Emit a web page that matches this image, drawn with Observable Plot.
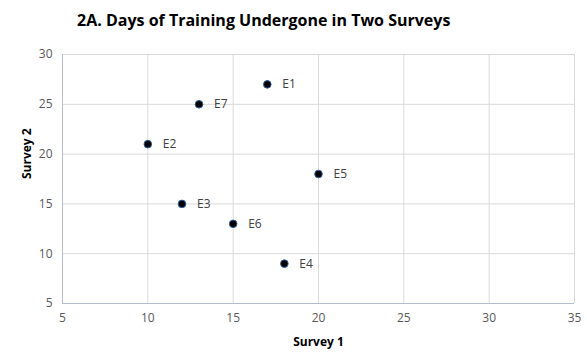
<!DOCTYPE html>
<html><head><meta charset="utf-8">
<script src="https://cdn.jsdelivr.net/npm/d3@7"></script>
<script src="https://cdn.jsdelivr.net/npm/@observablehq/plot@0.6"></script>
<style>
body{margin:0;background:#fff;font-family:"Open Sans",sans-serif;}
#title{height:40px;line-height:40px;text-align:left;font-weight:bold;font-size:16px;color:#000;font-family:"Open Sans",sans-serif;padding-left:77px;}
</style></head>
<body>
<div id="title">2A. Days of Training Undergone in Two Surveys</div>
<div id="chart"></div>
<script>
const labels = ["E1","E2","E3","E4","E5","E6","E7"];
const survey1 = [17,10,12,18,20,15,13];
const survey2 = [27,21,15,9,18,13,25];
const xTicks = [5,10,15,20,25,30,35];
const yTicks = [5,10,15,20,25,30];
const data = labels.map((l,i)=>({label:l,x:survey1[i],y:survey2[i]}));

const plot = Plot.plot({
  width:587, height:320,
  marginTop:14, marginBottom:57, marginLeft:62, marginRight:13,
  style:{fontFamily:"'Open Sans',sans-serif", fontSize:"12px", color:"#595959", background:"#fff"},
  x:{domain:[5,35], ticks:xTicks, label:null},
  y:{domain:[5,30], ticks:yTicks, label:null},
  marks:[
    Plot.gridX(xTicks.slice(1), {stroke:"#d9d9d9", strokeOpacity:1}),
    Plot.gridY(yTicks.slice(1), {stroke:"#d9d9d9", strokeOpacity:1}),
    Plot.ruleX([5], {stroke:"#b4bccb"}),
    Plot.ruleY([5], {stroke:"#b4bccb"}),
    Plot.axisX(xTicks, {tickSize:0, tickPadding:10, fontSize:12, fill:"#595959", label:null}),
    Plot.axisY(yTicks, {tickSize:0, tickPadding:10, fontSize:12, fill:"#595959", label:null}),
    Plot.dot(data, {x:"x", y:"y", r:3.8, fill:"#000", stroke:"#2e5d9a", strokeWidth:1}),
    Plot.text(data, {x:"x", y:"y", text:"label", dx:15, textAnchor:"start", fill:"#404040", fontSize:12}),
    Plot.text(["Survey 1"], {frameAnchor:"bottom", dy:42, fontWeight:"bold", fill:"#000", fontSize:12}),
    Plot.text(["Survey 2"], {frameAnchor:"left", dx:-35, rotate:-90, fontWeight:"bold", fill:"#000", fontSize:12})
  ]
});
document.getElementById("chart").appendChild(plot);
</script>
</body></html>
